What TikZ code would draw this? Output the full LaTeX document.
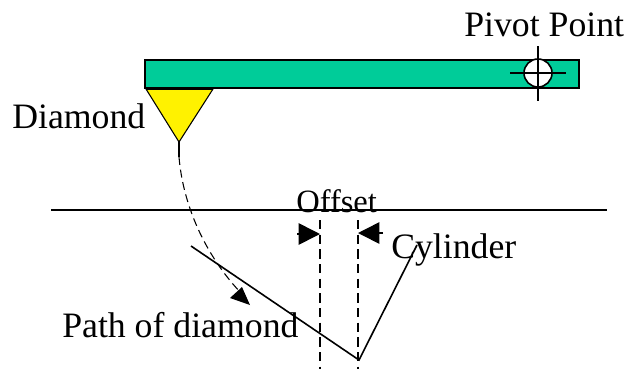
\documentclass[tikz,border=0pt]{standalone}
\usepackage{fontspec}
\setmainfont{Liberation Serif}
\usetikzlibrary{arrows.meta}
\definecolor{bargreen}{RGB}{0,204,153}
\tikzset{
  px/.style={x=0.75pt,y=-0.75pt},
  lab/.style={inner sep=0pt,anchor=base west,font=\fontsize{26.8pt}{29pt}\selectfont},
  ln/.style={draw=black,line width=1.2pt},
  dsh/.style={draw=black,line width=1.2pt,dash pattern=on 7pt off 4pt},
  bigtip/.style={-{Triangle[length=16pt,width=16pt]}}
}
\begin{document}
\begin{tikzpicture}[px]
\useasboundingbox (0,0) rectangle (627,369);
\fill[white] (0,0) rectangle (627,369);
\node[lab] (pivot) at (464,36) {Pivot Point};
\node[lab] (diamondlabel) at (12,128) {Diamond};
\node[lab,font=\fontsize{24.4pt}{27pt}\selectfont] (offset) at (296,212) {Offset};
\node[lab] (cyl) at (391,258) {Cylinder};
\node[lab] (path) at (62,337) {Path of diamond};
\draw[ln,fill=bargreen] (145,60) rectangle (579,88);
\draw[ln,fill=yellow,line width=0.8pt] (146,89) -- (213,89) -- (179,142) -- cycle;
\draw[black,line width=2.4pt] (146,88.5) -- (213,88.5);
\draw[ln] (179,142) -- (179,157);
\draw[ln,fill=white] (538,73) circle (14);
\coordinate (pl) at (510,73); \coordinate (pr) at (566,73);
\coordinate (pt) at (538,46); \coordinate (pb) at (538,101);
\draw[ln] (pl) -- (pr);
\draw[ln] (pt) -- (pb);
\coordinate (hl) at (51,210); \coordinate (hr) at (607,210);
\draw[ln] (hl) -- (hr);
\coordinate (d1) at (320,220); \coordinate (d1b) at (320,369);
\coordinate (d2) at (358,220); \coordinate (d2b) at (358,369);
\draw[dsh] (d1) -- (d1b);
\draw[dsh] (d2) -- (d2b);
\coordinate (oa) at (297,234); \coordinate (ob) at (320,234);
\coordinate (oc) at (383,233); \coordinate (od) at (358,233);
\draw[ln,bigtip] (oa) -- (ob);
\draw[ln,bigtip] (oc) -- (od);
\coordinate (cA) at (191,246); \coordinate (cB) at (359,360); \coordinate (cC) at (417,245);
\draw[ln] (cA) -- (cB) -- (cC);
\coordinate (s) at (179,157); \coordinate (e) at (241,293);
\draw[draw=black,line width=0.8pt,dash pattern=on 6pt off 3.5pt] (s) .. controls (183,205) and (205,255) .. (e);
\fill[black] (230,298) -- (242,287) -- (250,305) -- cycle;
\end{tikzpicture}
\end{document}
